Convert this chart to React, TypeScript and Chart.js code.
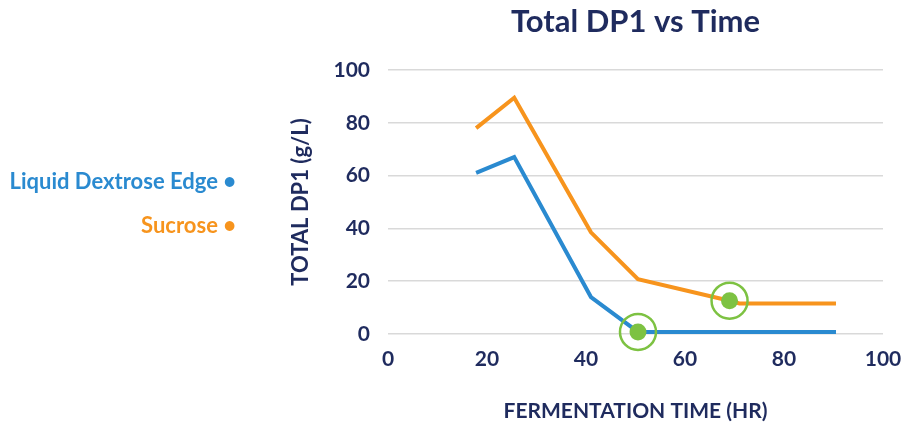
import React, { useEffect, useRef } from "react";
import { Chart, registerables } from "chart.js";

Chart.register(...registerables);

const timeLiquid = [17.8, 25.5, 41, 50.5, 90.5];
const dp1Liquid = [61, 67, 14, 0.8, 0.8];
const timeSucrose = [17.8, 25.5, 41, 50.5, 69, 71, 90.5];
const dp1Sucrose = [78, 89.5, 38.5, 20.8, 12.6, 11.6, 11.6];
const markerTimes = [50.5, 69];
const markerValues = [0.8, 12.6];
const xTicks = [0, 20, 40, 60, 80, 100];

const NAVY = "#1f2b5e";
const BLUE = "#2a8ad0";
const ORANGE = "#f7941d";
const GREEN = "#7dc242";
const FONT = "Lato";

export default function App() {
  const ref = useRef<HTMLCanvasElement | null>(null);

  useEffect(() => {
    if (!ref.current) return;
    const pts = (xs: number[], ys: number[]) => xs.map((x, i) => ({ x, y: ys[i] }));
    const chart = new Chart(ref.current, {
      type: "line",
      data: {
        datasets: [
          {
            label: "Liquid Dextrose Edge",
            data: pts(timeLiquid, dp1Liquid),
            borderColor: BLUE,
            borderWidth: 4,
            pointRadius: 0,
            tension: 0,
            order: 3,
            clip: false,
          },
          {
            label: "Sucrose",
            data: pts(timeSucrose, dp1Sucrose),
            borderColor: ORANGE,
            borderWidth: 4,
            pointRadius: 0,
            tension: 0,
            order: 3,
            clip: false,
          },
          {
            label: "ring",
            data: pts(markerTimes, markerValues),
            showLine: false,
            pointRadius: 18,
            pointBorderWidth: 2.5,
            pointBorderColor: GREEN,
            pointBackgroundColor: "rgba(0,0,0,0)",
            order: 1,
            clip: false,
          },
          {
            label: "dot",
            data: pts(markerTimes, markerValues),
            showLine: false,
            pointRadius: 8.5,
            pointBorderWidth: 0,
            pointBackgroundColor: GREEN,
            order: 1,
            clip: false,
          },
        ],
      },
      options: {
        animation: false,
        responsive: false,
        maintainAspectRatio: false,
        layout: { padding: { left: 280, right: 21, top: 0, bottom: 0 } },
        plugins: {
          legend: { display: false },
          tooltip: { enabled: false },
          title: {
            display: true,
            text: "Total DP1 vs Time",
            color: NAVY,
            fullSize: false,
            font: { family: FONT, size: 31, weight: "bold" },
            padding: { top: 3.4, bottom: 29.4 },
          },
        },
        scales: {
          x: {
            type: "linear",
            min: 0,
            max: 100,
            afterBuildTicks: (s: any) => {
              s.ticks = xTicks.map((v) => ({ value: v }));
            },
            afterFit: (s: any) => {
              s.height = 93;
              s.paddingLeft = 0;
              s.paddingRight = 0;
            },
            grid: { display: false, drawTicks: false },
            border: { display: false },
            ticks: {
              color: NAVY,
              padding: 13,
              font: { family: FONT, size: 21, weight: "bold" },
            },
            title: {
              display: true,
              text: "FERMENTATION TIME (HR)",
              color: NAVY,
              font: { family: FONT, size: 21, weight: "bold" },
              padding: { top: 20, bottom: 3 },
            },
          },
          y: {
            min: 0,
            max: 100,
            ticks: {
              stepSize: 20,
              color: NAVY,
              padding: 18,
              font: { family: FONT, size: 21, weight: "bold" },
            },
            grid: { color: "#d9d9d9", lineWidth: 1.5, drawTicks: false },
            border: { display: false },
            afterFit: (s: any) => {
              s.width = 108;
            },
            title: {
              display: true,
              text: "TOTAL DP1 (g/L)",
              color: NAVY,
              font: { family: FONT, size: 22, weight: "bold" },
              padding: { top: 7.8, bottom: 0 },
            },
          },
        },
      },
    });
    return () => chart.destroy();
  }, []);

  return (
    <div style={{ position: "absolute", left: 0, top: 0, width: 904, height: 427 }}>
      <canvas ref={ref} width={904} height={427} style={{ display: "block" }} />
      <div
        style={{
          position: "absolute",
          right: 904 - 236,
          top: 168,
          textAlign: "right",
          fontFamily: FONT,
          fontWeight: "bold",
          fontSize: 22,
          lineHeight: "26px",
          whiteSpace: "nowrap",
        }}
      >
        <div style={{ color: BLUE }}>Liquid Dextrose Edge •</div>
        <div style={{ color: ORANGE, marginTop: 18 }}>Sucrose •</div>
      </div>
    </div>
  );
}
